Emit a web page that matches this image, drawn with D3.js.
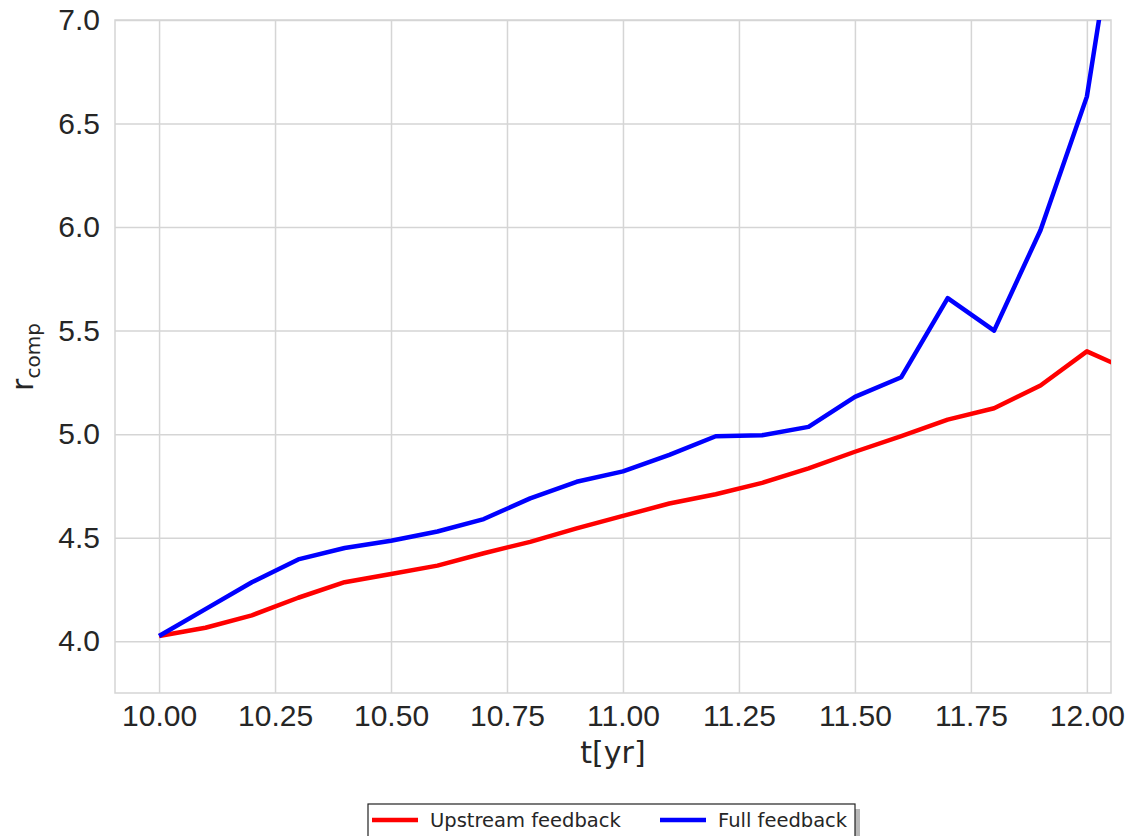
<!DOCTYPE html>
<html>
<head>
<meta charset="utf-8">
<script src="https://cdn.jsdelivr.net/npm/d3@7"></script>
<style>
  body { margin: 0; background: #fff; }
  svg { display: block; font-family: 'DejaVu Sans', sans-serif; }
</style>
</head>
<body>
<div id="chart"></div>
<script>
// sampled every 0.1 yr
const years = [10.0, 10.1, 10.2, 10.3, 10.4, 10.5, 10.6, 10.7, 10.8, 10.9, 11.0,
  11.1, 11.2, 11.3, 11.4, 11.5, 11.6, 11.7, 11.8, 11.9, 12.0, 12.1];
const upstream = [4.025, 4.065, 4.125, 4.21, 4.285, 4.325, 4.365, 4.425, 4.48, 4.545, 4.605,
  4.665, 4.71, 4.765, 4.835, 4.915, 4.99, 5.07, 5.125, 5.235, 5.40, 5.30];
const full = [4.025, 4.155, 4.285, 4.395, 4.45, 4.485, 4.53, 4.59, 4.69, 4.77, 4.82,
  4.90, 4.99, 4.995, 5.035, 5.18, 5.275, 5.657, 5.50, 5.985, 6.63, 8.05];
const seriesNames = ['Upstream feedback', 'Full feedback'];
const seriesColors = ['#ff0000', '#0000ff'];
const xTicks = [10.0, 10.25, 10.5, 10.75, 11.0, 11.25, 11.5, 11.75, 12.0];
const yTicks = [4.0, 4.5, 5.0, 5.5, 6.0, 6.5, 7.0];

const width = 1138;
const height = 836;
const margin = { top: 20, right: 27, bottom: 143, left: 115 };
const gridColor = '#d5d5d5';
const textColor = '#262626';

const svg = d3.select('#chart')
  .append('svg')
  .attr('width', width)
  .attr('height', height);

const x = d3.scaleLinear()
  .domain([9.905, 12.052])
  .range([margin.left, width - margin.right]);

const y = d3.scaleLinear()
  .domain([3.75, 7.0])
  .range([height - margin.bottom, margin.top]);

svg.append('clipPath')
  .attr('id', 'plot-clip')
  .append('rect')
  .attr('x', margin.left)
  .attr('y', margin.top)
  .attr('width', width - margin.left - margin.right)
  .attr('height', height - margin.top - margin.bottom);

// grid
const xAxis = d3.axisBottom(x)
  .tickValues(xTicks)
  .tickFormat(d3.format('.2f'))
  .tickSize(-(height - margin.top - margin.bottom))
  .tickPadding(12);

svg.append('g')
  .attr('transform', `translate(0, ${height - margin.bottom})`)
  .call(xAxis)
  .call(g => g.select('.domain').remove())
  .call(g => g.selectAll('.tick line').attr('stroke', gridColor).attr('stroke-width', 1.5))
  .call(g => g.selectAll('.tick text')
    .attr('fill', textColor)
    .style('font-size', '30px')
    .attr('dy', '0.71em'));

const yAxis = d3.axisLeft(y)
  .tickValues(yTicks)
  .tickFormat(d3.format('.1f'))
  .tickSize(-(width - margin.left - margin.right))
  .tickPadding(15);

svg.append('g')
  .attr('transform', `translate(${margin.left}, 0)`)
  .call(yAxis)
  .call(g => g.select('.domain').remove())
  .call(g => g.selectAll('.tick line').attr('stroke', gridColor).attr('stroke-width', 1.5))
  .call(g => g.selectAll('.tick text')
    .attr('fill', textColor)
    .style('font-size', '30px'));

// frame
svg.append('rect')
  .attr('x', margin.left)
  .attr('y', margin.top)
  .attr('width', width - margin.left - margin.right)
  .attr('height', height - margin.top - margin.bottom)
  .attr('fill', 'none')
  .attr('stroke', gridColor)
  .attr('stroke-width', 1.5);

// lines
const line = d3.line()
  .x(d => x(d[0]))
  .y(d => y(d[1]));

const plot = svg.append('g').attr('clip-path', 'url(#plot-clip)');
[upstream, full].forEach((vals, i) => {
  plot.append('path')
    .datum(d3.zip(years, vals))
    .attr('d', line)
    .attr('fill', 'none')
    .attr('stroke', seriesColors[i])
    .attr('stroke-width', 4.5)
    .attr('stroke-linejoin', 'round');
});

// axis labels
svg.append('text')
  .attr('x', (margin.left + width - margin.right) / 2)
  .attr('y', 763)
  .attr('text-anchor', 'middle')
  .attr('fill', textColor)
  .style('font-size', '30px')
  .text('t[yr]');

const yLabel = svg.append('text')
  .attr('transform', 'translate(33, 357) rotate(-90)')
  .attr('text-anchor', 'middle')
  .attr('fill', textColor)
  .style('font-size', '30px');
yLabel.append('tspan').text('r');
yLabel.append('tspan')
  .attr('dy', 7)
  .style('font-size', '20px')
  .text('comp');

// legend with shadow
const legend = svg.append('g');
legend.append('rect')
  .attr('x', 373)
  .attr('y', 809)
  .attr('width', 487)
  .attr('height', 60)
  .attr('fill', '#888')
  .attr('opacity', 0.6);
legend.append('rect')
  .attr('x', 368)
  .attr('y', 804)
  .attr('width', 487)
  .attr('height', 60)
  .attr('fill', '#fff')
  .attr('stroke', '#222')
  .attr('stroke-width', 1.2);

const legendX = [372, 660];
seriesNames.forEach((name, i) => {
  legend.append('line')
    .attr('x1', legendX[i])
    .attr('x2', legendX[i] + 46)
    .attr('y1', 820)
    .attr('y2', 820)
    .attr('stroke', seriesColors[i])
    .attr('stroke-width', 4.5);
  legend.append('text')
    .attr('x', legendX[i] + 58)
    .attr('y', 827)
    .attr('fill', textColor)
    .style('font-size', '19.5px')
    .text(name);
});
</script>
</body>
</html>
